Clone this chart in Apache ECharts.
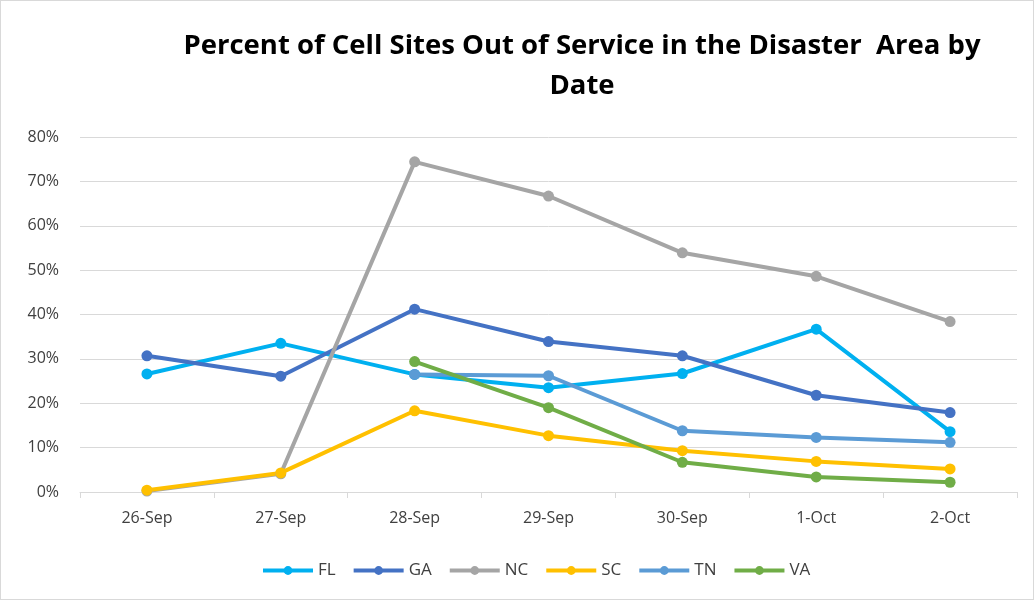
<!DOCTYPE html>
<html><head><meta charset="utf-8">
<script src="https://cdn.jsdelivr.net/npm/echarts@6/dist/echarts.min.js"></script>
<style>html,body{margin:0;padding:0;background:#fff}#c{width:1034px;height:600px;box-sizing:border-box;border:1px solid #d9d9d9}</style>
</head><body><div id="c"></div>
<script>
const categories = ['26-Sep','27-Sep','28-Sep','29-Sep','30-Sep','1-Oct','2-Oct'];
const FL = [26.6, 33.5, 26.5, 23.5, 26.7, 36.7, 13.6];
const GA = [30.7, 26.1, 41.2, 33.9, 30.7, 21.8, 17.9];
const NC = [0.2, 4.1, 74.4, 66.7, 53.9, 48.6, 38.4];
const SC = [0.4, 4.3, 18.3, 12.7, 9.3, 6.9, 5.2];
const TN = [null, null, 26.5, 26.2, 13.8, 12.3, 11.2];
const VA = [null, null, 29.4, 19.0, 6.7, 3.4, 2.2];
const seriesNames = ['FL','GA','NC','SC','TN','VA'];
const seriesData = [FL, GA, NC, SC, TN, VA];
const colors = ['#00B0F0','#4472C4','#A5A5A5','#FFC000','#5B9BD5','#70AD47'];

const chart = echarts.init(document.getElementById('c'));
chart.setOption({
  animation: false,
  color: colors,
  title: {
    text: 'Percent of Cell Sites Out of Service in the Disaster  Area by\nDate',
    left: 576, top: 20, textAlign: 'center',
    textStyle: {fontFamily: 'Open Sans', fontWeight: 'bold', fontSize: 27.5, color: '#000', lineHeight: 40}
  },
  legend: {
    top: 556, left: 255,
    itemWidth: 50, itemHeight: 11, itemGap: 16,
    lineStyle: {width: 4},
    textStyle: {fontFamily: 'Open Sans', fontSize: 17, color: '#404040'},
    data: seriesNames
  },
  grid: {left: 79, right: 16, top: 136, bottom: 107},
  xAxis: {
    type: 'category', data: categories, boundaryGap: true,
    axisLine: {lineStyle: {color: '#d9d9d9', width: 1}},
    axisTick: {show: true, length: 6, lineStyle: {color: '#d9d9d9'}},
    axisLabel: {fontFamily: 'Open Sans', fontSize: 16, color: '#404040', margin: 18}
  },
  yAxis: {
    type: 'value', min: 0, max: 80, interval: 10,
    axisLine: {show: false}, axisTick: {show: false},
    splitLine: {lineStyle: {color: '#d9d9d9', width: 1}},
    axisLabel: {formatter: '{value}%', fontFamily: 'Open Sans', fontSize: 16, color: '#404040', margin: 21}
  },
  series: seriesNames.map((n, i) => ({
    name: n, type: 'line', data: seriesData[i],
    symbol: 'circle', symbolSize: 11, connectNulls: false,
    lineStyle: {width: 4}
  }))
});
</script></body></html>
